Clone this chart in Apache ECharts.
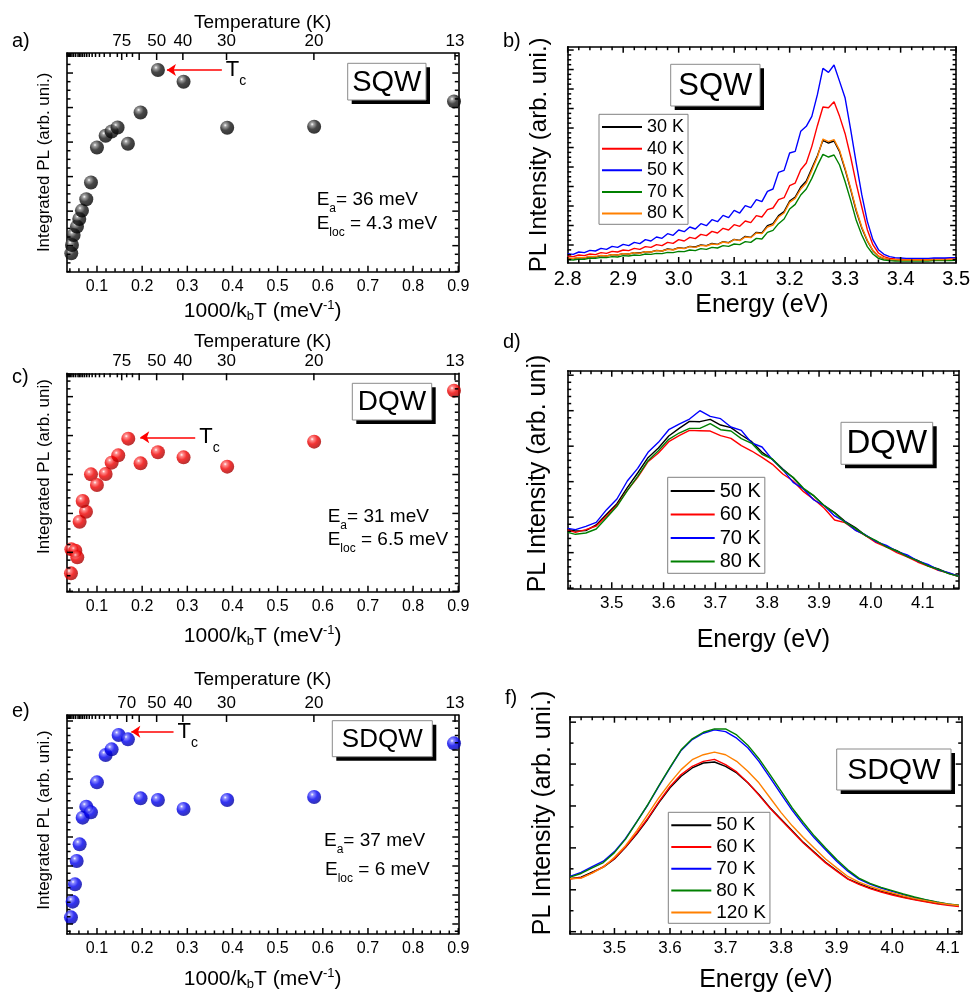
<!DOCTYPE html>
<html>
<head>
<meta charset="utf-8">
<script src="https://cdn.jsdelivr.net/npm/echarts@6/dist/echarts.min.js"></script>
<style>
html, body { margin: 0; padding: 0; background: #fff; }
#chart { width: 973px; height: 994px; }
</style>
</head>
<body>
<div id="chart"></div>
<script>
// ---------- data ----------
// Arrhenius panels: x = 1000/kbT (meV^-1), y = integrated PL (arb. units)
const sqwX  = [0.0431, 0.0446, 0.0483, 0.0557, 0.0608, 0.0667, 0.0763, 0.0867, 0.0999, 0.1191, 0.1324, 0.1456, 0.1685, 0.1965, 0.2349, 0.2917, 0.3883, 0.5808, 0.8905];
const sqwY  = [55, 80, 110, 135, 158, 183, 217, 267, 372, 407, 420, 432, 383, 477, 604, 569, 431, 434, 510];
const dqwX  = [0.0424, 0.0432, 0.0520, 0.0564, 0.0616, 0.0756, 0.0683, 0.0867, 0.0999, 0.1191, 0.1324, 0.1471, 0.1693, 0.1965, 0.2349, 0.2917, 0.3883, 0.5808, 0.8905];
const dqwY  = [55, 127, 123, 103, 210, 240, 272, 352, 320, 353, 387, 409, 459, 385, 418, 403, 375, 450, 603];
const sdqwX = [0.0424, 0.0461, 0.0513, 0.0550, 0.0616, 0.0683, 0.0763, 0.0867, 0.0999, 0.1191, 0.1324, 0.1479, 0.1685, 0.1965, 0.2349, 0.2917, 0.3883, 0.5808, 0.8905];
const sdqwY = [50, 97, 149, 219, 269, 349, 382, 365, 455, 537, 554, 597, 584, 407, 402, 375, 402, 411, 572];

// Tc arrows (from, to, level) in data units
const tcSQW  = { from: 0.3765, to: 0.2549, y: 604 };
const tcDQW  = { from: 0.3175, to: 0.1958, y: 463 };
const tcSDQW = { from: 0.2695, to: 0.1760, y: 607 };

// tick labels
const invTLabels   = [0.1, 0.2, 0.3, 0.4, 0.5, 0.6, 0.7, 0.8, 0.9];
const tempLabelsA  = [75, 50, 40, 30, 20, 13];
const tempLabelsC  = [75, 50, 40, 30, 20, 13];
const tempLabelsE  = [70, 50, 40, 30, 20, 13];
const tempMinor    = [60, 65, 70, 80, 90, 100, 110, 120, 130, 140, 150, 160, 170, 180, 190, 200, 220, 240, 260, 280, 300, 320, 340];
const energyLabelsB  = [2.8, 2.9, 3.0, 3.1, 3.2, 3.3, 3.4, 3.5];
const energyLabelsDF = [3.5, 3.6, 3.7, 3.8, 3.9, 4.0, 4.1];

// SQW spectra (b)
const energyB = [2.80,2.81,2.82,2.83,2.84,2.85,2.86,2.87,2.88,2.89,2.90,2.91,2.92,2.93,2.94,2.95,2.96,2.97,2.98,2.99,
  3.00,3.01,3.02,3.03,3.04,3.05,3.06,3.07,3.08,3.09,3.10,3.11,3.12,3.13,3.14,3.15,3.16,3.17,3.18,3.19,
  3.20,3.21,3.22,3.23,3.24,3.25,3.26,3.27,3.28,3.29,3.30,3.31,3.32,3.33,3.34,3.35,3.36,3.37,3.38,3.39,
  3.40,3.41,3.42,3.43,3.44,3.45,3.46,3.47,3.48,3.49,3.50];
const sqw30K = [14,13,16,15,19,18,22,21,25,24, 28,27,31,30,34,33,38,36,42,40, 46,44,50,48,54,52,59,56,64,61,
  71,68,80,77,92,90,112,118,142,154, 186,198,228,246,284,322,368,360,366,334, 280,220,156,105,66,37,20,13,10,9, 8,8,8,8,8,8,9,9,9,10,10];
const sqw40K = [21,19,24,22,27,25,31,29,35,33, 39,37,44,41,49,47,55,52,62,59, 70,66,77,73,86,82,95,90,104,99,
  115,110,126,121,142,138,160,165,190,196, 232,240,280,300,350,412,468,466,484,440, 388,318,238,168,100,55,30,19,14,12, 11,11,11,11,11,11,12,12,12,12,12];
const sqw50K = [28,26,33,31,38,36,44,41,50,47, 56,52,62,58,70,66,78,74,88,83, 99,94,108,102,118,112,130,124,143,136,
  158,150,172,166,190,184,215,222,272,278, 330,335,395,410,440,505,584,572,594,545, 495,400,300,205,125,70,40,26,19,16, 15,14,14,14,14,14,15,15,15,16,16];
const sqw70K = [10,9,12,11,15,14,17,16,19,18, 22,21,24,23,27,26,29,28,32,31, 35,34,39,37,43,41,47,45,52,50,
  57,55,64,62,74,72,92,98,118,132, 162,176,204,222,254,292,326,318,324,294, 244,188,128,84,49,27,14,9,7,6, 6,6,6,6,6,6,7,7,7,7,8];
const sqw80K = [15,14,17,16,20,19,23,21,25,24, 28,27,31,29,34,33,37,36,41,39, 45,43,49,47,53,51,57,55,63,60,
  70,67,78,76,90,88,108,114,138,150, 182,194,222,240,278,318,372,364,370,338, 284,224,160,108,68,38,21,14,11,10, 9,9,9,9,9,9,10,10,10,11,11];

// DQW spectra (d)
const energyD = [3.415,3.43,3.45,3.47,3.49,3.51,3.53,3.55,3.57,3.59,3.61,3.63,3.65,3.67,3.69,3.71,3.73,3.75,3.77,3.79,
  3.81,3.83,3.85,3.87,3.89,3.91,3.93,3.95,3.97,3.99,4.01,4.03,4.05,4.07,4.09,4.11,4.13,4.15,4.17];
const dqw50K = [177,172,173,190,222,254,302,346,392,421,457,480,501,500,507,490,482,460,440,408,387,358,332,298,277,248,227,201,182,158,141,125,113,96,84,68,58,45,35];
const dqw60K = [175,168,176,187,217,249,294,333,380,406,440,458,474,473,472,458,450,428,412,393,372,343,322,290,267,240,205,197,175,158,137,124,107,94,79,67,54,46,35];
const dqw70K = [180,176,186,198,236,268,322,360,408,438,476,493,508,533,516,509,484,474,436,424,386,356,318,298,265,248,217,200,174,160,140,129,111,100,82,72,55,47,36];
const dqw80K = [168,162,166,178,212,246,293,336,383,413,447,466,480,480,494,476,472,449,435,402,388,355,333,300,278,248,226,198,180,158,143,124,112,95,83,67,57,44,36];

// SDQW spectra (f)
const energyF = [3.42,3.44,3.46,3.48,3.50,3.52,3.54,3.56,3.58,3.60,3.62,3.64,3.66,3.68,3.70,3.72,3.74,3.76,3.78,3.80,
  3.82,3.84,3.86,3.88,3.90,3.92,3.94,3.96,3.98,4.00,4.02,4.04,4.06,4.08,4.10,4.12];
const sdqw50K  = [167,172,187,202,227,262,302,347,397,442,477,502,517,520,507,487,457,422,382,347,312,277,247,217,192,167,152,139,129,121,112,105,99,93,89,85];
const sdqw60K  = [167,170,185,204,228,264,305,350,400,446,482,507,522,528,512,490,458,420,380,345,310,275,245,215,190,166,150,137,127,118,110,103,97,91,87,83];
const sdqw70K  = [174,186,204,220,249,289,339,390,447,502,555,588,607,617,612,592,563,522,473,423,374,330,290,255,220,190,166,151,139,129,119,110,103,96,90,86];
const sdqw80K  = [172,183,200,216,246,287,338,391,449,504,557,590,610,620,620,602,571,530,482,432,381,337,296,260,225,194,169,153,141,131,121,112,104,97,91,87];
const sdqw120K = [167,169,184,202,232,267,312,362,412,457,497,527,542,550,542,522,492,457,412,367,327,292,259,227,200,174,157,144,133,124,115,107,101,95,90,86];

// ---------- helpers ----------
const kB = 0.08617; // meV/K
const FONT = 'Arial, "Liberation Sans", Helvetica, sans-serif';
const BLACK = '#000000', RED = '#ff0000', BLUE = '#0000ff', GREEN = '#008000', ORANGE = '#ff8000';

function tickSet(origin, step, sub, lo, hi) {
  const major = [], minor = [];
  const ms = step / sub;
  const k0 = Math.ceil((lo - origin) / ms - 1e-6), k1 = Math.floor((hi - origin) / ms + 1e-6);
  for (let k = k0; k <= k1; k++) {
    const v = +(origin + k * ms).toFixed(6);
    (((k % sub) + sub) % sub === 0 ? major : minor).push(v);
  }
  return { major, minor };
}
const invT = T => 1 / (kB * T);

const grids = [], xAxes = [], yAxes = [], series = [], legends = [], graphics = [];
const frameLine = { color: '#000', width: 1.6 };

// Inward tick marks on all four frame sides, placed through the axis scales.
// item = [side, value, length]; side 0 bottom, 1 top, 2 left, 3 right
function addFrameTicks(ax, p, items) {
  series.push({
    type: 'custom', xAxisIndex: ax.x, yAxisIndex: ax.y, silent: true, z: 6, clip: false,
    data: items,
    renderItem: function (params, api) {
      const side = api.value(0), v = api.value(1), len = api.value(2);
      let a, dx = 0, dy = 0;
      if (side === 0) { a = api.coord([v, 0]); dy = -len; }
      else if (side === 1) { a = api.coord([v, p.yMax]); dy = len; }
      else if (side === 2) { a = api.coord([p.xMin, v]); dx = len; }
      else { a = api.coord([p.xMax, v]); dx = -len; }
      return { type: 'line', silent: true,
        shape: { x1: a[0], y1: a[1], x2: a[0] + dx, y2: a[1] + dy },
        style: { stroke: '#000', lineWidth: 1.5 } };
    }
  });
}

function buildPanel(p) {
  const gi = grids.length;
  grids.push({ left: p.box[0], top: p.box[1], width: p.box[2] - p.box[0], height: p.box[3] - p.box[1] });
  const xt = tickSet(p.xOrigin, p.xStep, p.xSub, p.xMin, p.xMax);
  const yt = tickSet(p.yOrigin, p.yStep, p.ySub, 0, p.yMax);
  const xMain = xAxes.length, yMain = yAxes.length;
  const xBase = { gridIndex: gi, type: 'value', min: p.xMin, max: p.xMax, splitLine: { show: false }, axisTick: { show: false } };
  const yBase = { gridIndex: gi, type: 'value', min: 0, max: p.yMax, splitLine: { show: false }, axisTick: { show: false } };

  xAxes.push(Object.assign({}, xBase, {
    position: 'bottom',
    axisLine: { show: true, onZero: false, lineStyle: frameLine },
    axisLabel: { show: true, customValues: p.xLabels, formatter: v => v.toFixed(1), margin: p.xLabelMargin,
      color: '#000', fontSize: p.xLabelSize, fontFamily: FONT },
    name: p.xName, nameLocation: 'middle', nameGap: p.xNameGap,
    nameTextStyle: { color: '#000', fontSize: p.xNameSize, fontFamily: FONT,
      rich: {
        sub: { fontSize: 13, fontFamily: FONT, color: '#000', padding: [10, 0, 0, 0] },
        sup: { fontSize: 13, fontFamily: FONT, color: '#000', padding: [0, 0, 12, 0] }
      } }
  }));

  const ticks = [];
  xt.major.forEach(v => ticks.push([0, v, 6]));
  xt.minor.forEach(v => ticks.push([0, v, 3.5]));

  if (p.temps) {
    // reciprocal temperature scale along the top
    xAxes.push(Object.assign({}, xBase, {
      position: 'top',
      axisLine: { show: true, onZero: false, lineStyle: frameLine },
      axisLabel: { show: true, customValues: p.temps.map(invT), formatter: v => String(Math.round(1 / (kB * v))),
        margin: 3, color: '#000', fontSize: 17, fontFamily: FONT },
      name: 'Temperature (K)', nameLocation: 'middle', nameGap: p.tempNameGap,
      nameTextStyle: { color: '#000', fontSize: 19, fontFamily: FONT }
    }));
    p.temps.concat([60]).forEach(T => ticks.push([1, invT(T), 7]));
    tempMinor.filter(T => p.temps.indexOf(T) < 0 && T !== 60).forEach(T => ticks.push([1, invT(T), 4]));
  } else {
    xAxes.push(Object.assign({}, xBase, {
      position: 'top', axisLabel: { show: false },
      axisLine: { show: true, onZero: false, lineStyle: frameLine }
    }));
    xt.major.forEach(v => ticks.push([1, v, 6]));
    xt.minor.forEach(v => ticks.push([1, v, 3.5]));
  }

  yAxes.push(Object.assign({}, yBase, {
    position: 'left',
    axisLine: { show: true, onZero: false, lineStyle: frameLine },
    axisLabel: { show: false },
    name: p.yName, nameLocation: 'middle', nameGap: p.yNameGap,
    nameTextStyle: { color: '#000', fontSize: p.yNameSize, fontFamily: FONT, padding: [0, 0, 0, p.yNameShift || 0] }
  }));
  yAxes.push(Object.assign({}, yBase, {
    position: 'right', axisLabel: { show: false },
    axisLine: { show: true, onZero: false, lineStyle: frameLine }
  }));
  yt.major.forEach(v => { ticks.push([2, v, 6]); ticks.push([3, v, 6]); });
  yt.minor.forEach(v => { ticks.push([2, v, 3.5]); ticks.push([3, v, 3.5]); });

  const ax = { x: xMain, y: yMain };
  addFrameTicks(ax, p, ticks);
  return ax;
}

function sphere(light, mid, dark, edge) {
  return { type: 'radial', x: 0.36, y: 0.32, r: 0.72,
    colorStops: [{ offset: 0, color: light }, { offset: 0.16, color: mid }, { offset: 0.5, color: dark }, { offset: 1, color: edge }] };
}

function addArrhenius(ax, xs, ys, fill, tc) {
  series.push({
    type: 'scatter', xAxisIndex: ax.x, yAxisIndex: ax.y, silent: true, z: 4,
    data: xs.map((x, i) => [x, ys[i]]),
    symbolSize: 14, itemStyle: { color: fill },
    markLine: {
      silent: true, symbol: ['none', 'arrow'], symbolSize: 9, precision: 4,
      lineStyle: { color: RED, width: 1.6, type: 'solid' },
      label: { show: true, position: 'start', distance: 4, formatter: '{t|T}{s|c}',
        rich: {
          t: { fontSize: 22, lineHeight: 24, color: '#000', fontFamily: FONT },
          s: { fontSize: 14, lineHeight: 14, color: '#000', fontFamily: FONT, padding: [22, 0, 0, 0] }
        } },
      emphasis: { disabled: true },
      data: [[{ coord: [tc.from, tc.y] }, { coord: [tc.to, tc.y] }]]
    }
  });
}

function addSpectrum(ax, name, xs, ys, color) {
  series.push({
    type: 'line', name, xAxisIndex: ax.x, yAxisIndex: ax.y, silent: true,
    data: xs.map((x, i) => [x, ys[i]]),
    showSymbol: false, symbol: 'none', clip: true,
    lineStyle: { color, width: 1.4 }, itemStyle: { color }
  });
}

function addLegend(names, left, top, fontSize, rowH, iconW) {
  legends.push({
    orient: 'vertical', left, top, data: names, selectedMode: false,
    icon: 'rect', itemWidth: iconW, itemHeight: 2, itemGap: 0, padding: [2, 4, 0, 3],
    borderColor: '#808080', borderWidth: 1, backgroundColor: '#fff',
    formatter: n => n.trim(),
    textStyle: { color: '#000', fontSize, lineHeight: rowH, fontFamily: FONT }
  });
}

function tagBox(text, l, t, r, b, fs) {
  graphics.push({
    type: 'group', silent: true, z: 20, children: [
      { type: 'rect', shape: { x: l + 4, y: t + 4, width: r - l, height: b - t }, style: { fill: '#000' } },
      { type: 'rect', shape: { x: l, y: t, width: r - l, height: b - t }, style: { fill: '#fff', stroke: '#8a8a8a', lineWidth: 1 } },
      { type: 'text', x: (l + r) / 2, y: (t + b) / 2 + 1,
        style: { text, fontSize: fs, fontFamily: FONT, fill: '#000', align: 'center', verticalAlign: 'middle',
          textAlign: 'center', textVerticalAlign: 'middle' } }
    ]
  });
}

function energyNote(x, y, sub, rest) {
  graphics.push({
    type: 'text', x, y, silent: true, z: 20,
    style: {
      text: '{m|E}{s|' + sub + '}{m|' + rest + '}',
      verticalAlign: 'middle', textVerticalAlign: 'middle', align: 'left', textAlign: 'left',
      fill: '#000',
      rich: {
        m: { fontSize: 19, lineHeight: 22, fontFamily: FONT, fill: '#000' },
        s: { fontSize: 12, lineHeight: 12, fontFamily: FONT, fill: '#000', padding: [18, 0, 0, 0] }
      }
    }
  });
}

function panelTag(text, x, y) {
  graphics.push({ type: 'text', x, y, silent: true,
    style: { text, fontSize: 20, fontFamily: FONT, fill: '#000', verticalAlign: 'middle', textVerticalAlign: 'middle' } });
}

// ---------- panels ----------
const kinName = '1000/k{sub|b}T (meV{sup|-1})';
const common = { xOrigin: 0.1, xStep: 0.1, xSub: 5, xMin: 0.0336, xMax: 0.9, xLabels: invTLabels,
  xLabelMargin: 7, xLabelSize: 16, xName: kinName, xNameSize: 21, yNameSize: 17, yNameGap: 14 };

// a) SQW
const axA = buildPanel(Object.assign({}, common, { box: [67, 53, 458.3, 271.7], yMax: 655,
  yOrigin: 78, yStep: 103.4, ySub: 4, temps: tempLabelsA, tempNameGap: 21, xNameGap: 27,
  yName: 'Integrated PL (arb. uni.)' }));
addArrhenius(axA, sqwX, sqwY, sphere('#ffffff', '#8a8a8a', '#1a1a1a', '#000000'), tcSQW);

// c) DQW
const axC = buildPanel(Object.assign({}, common, { box: [67, 373.3, 458.3, 591.7], yMax: 655,
  yOrigin: 118, yStep: 116.75, ySub: 5, temps: tempLabelsC, tempNameGap: 22, xNameGap: 32,
  yName: 'Integrated PL (arb. uni)', yNameShift: 32 }));
addArrhenius(axC, dqwX, dqwY, sphere('#ffffff', '#ff7070', '#f00000', '#a00000'), tcDQW);

// e) SDQW
const axE = buildPanel(Object.assign({}, common, { box: [67, 715, 458.3, 934], yMax: 657,
  yOrigin: 117, yStep: 87, ySub: 4, temps: tempLabelsE, tempNameGap: 26, xNameGap: 33,
  yName: 'Integrated PL (arb. uni.)', yNameShift: 9 }));
addArrhenius(axE, sdqwX, sdqwY, sphere('#ffffff', '#7070ff', '#0000f0', '#00009a'), tcSDQW);

// b) SQW spectra
const axB = buildPanel({ box: [567.7, 46.7, 959, 263], xOrigin: 2.8, xStep: 0.1, xSub: 5, xMin: 2.8, xMax: 3.5,
  xLabels: energyLabelsB, xLabelMargin: 6, xLabelSize: 20, xName: 'Energy (eV)', xNameSize: 25, xNameGap: 30,
  yMax: 649, yOrigin: 54, yStep: 58.5, ySub: 4, yName: 'PL Intensity (arb. uni.)', yNameSize: 24, yNameGap: 16 });
addSpectrum(axB, '30 K', energyB, sqw30K, BLACK);
addSpectrum(axB, '40 K', energyB, sqw40K, RED);
addSpectrum(axB, '50 K', energyB, sqw50K, BLUE);
addSpectrum(axB, '70 K', energyB, sqw70K, GREEN);
addSpectrum(axB, '80 K', energyB, sqw80K, ORANGE);
addLegend(['30 K', '40 K', '50 K', '70 K', '80 K'], 599, 114.3, 18, 21.6, 40);

// d) DQW spectra
const axD = buildPanel({ box: [567.7, 370.7, 959, 588.3], xOrigin: 3.5, xStep: 0.1, xSub: 5, xMin: 3.415, xMax: 4.17,
  xLabels: energyLabelsDF, xLabelMargin: 7, xLabelSize: 17, xName: 'Energy (eV)', xNameSize: 25, xNameGap: 39,
  yMax: 653, yOrigin: 107, yStep: 106.5, ySub: 5, yName: 'PL Intensity (arb. uni)', yNameSize: 25, yNameGap: 17, yNameShift: 12 });
addSpectrum(axD, '50 K ', energyD, dqw50K, BLACK);
addSpectrum(axD, '60 K ', energyD, dqw60K, RED);
addSpectrum(axD, '70 K ', energyD, dqw70K, BLUE);
addSpectrum(axD, '80 K ', energyD, dqw80K, GREEN);
addLegend(['50 K ', '60 K ', '70 K ', '80 K '], 667.7, 477.3, 20, 23.5, 44);

// f) SDQW spectra
const axF = buildPanel({ box: [570, 716.7, 961.7, 935.7], xOrigin: 3.5, xStep: 0.1, xSub: 5, xMin: 3.42, xMax: 4.125,
  xLabels: energyLabelsDF, xLabelMargin: 6, xLabelSize: 17, xName: 'Energy (eV)', xNameSize: 25, xNameGap: 34,
  yMax: 657, yOrigin: 133.7, yStep: 126.7, ySub: 2, yName: 'PL Intensity (arb. uni.)', yNameSize: 25, yNameGap: 14, yNameShift: 25 });
addSpectrum(axF, '50 K  ', energyF, sdqw50K, BLACK);
addSpectrum(axF, '60 K  ', energyF, sdqw60K, RED);
addSpectrum(axF, '70 K  ', energyF, sdqw70K, BLUE);
addSpectrum(axF, '80 K  ', energyF, sdqw80K, GREEN);
addSpectrum(axF, '120 K  ', energyF, sdqw120K, ORANGE);
addLegend(['50 K  ', '60 K  ', '70 K  ', '80 K  ', '120 K  '], 668.3, 812.3, 19, 21.8, 40);

// ---------- annotations ----------
tagBox('SQW', 347.7, 63.3, 426, 100, 29);
tagBox('SQW', 670.7, 64.3, 760, 106, 31);
tagBox('DQW', 352.3, 383.3, 431.7, 420, 28);
tagBox('DQW', 841, 422.3, 932.7, 464.3, 33);
tagBox('SDQW', 332.3, 720.7, 432.3, 756.7, 26);
tagBox('SDQW', 836.7, 749, 951, 790, 30);

energyNote(316.7, 200, 'a', '= 36 meV');
energyNote(316.7, 224, 'loc', ' = 4.3 meV');
energyNote(327.7, 516.7, 'a', '= 31 meV');
energyNote(327.7, 540, 'loc', ' = 6.5 meV');
energyNote(324, 840.7, 'a', '= 37 meV');
energyNote(325, 870, 'loc', ' = 6 meV');

panelTag('a)', 12, 41);
panelTag('b)', 503, 41.5);
panelTag('c)', 12, 377);
panelTag('d)', 503, 342.5);
panelTag('e)', 12, 711);
panelTag('f)', 505, 698);

const chart = echarts.init(document.getElementById('chart'), null, { renderer: 'canvas' });
chart.setOption({
  animation: false,
  backgroundColor: '#ffffff',
  grid: grids, xAxis: xAxes, yAxis: yAxes,
  legend: legends, series, graphic: graphics
});
</script>
</body>
</html>
